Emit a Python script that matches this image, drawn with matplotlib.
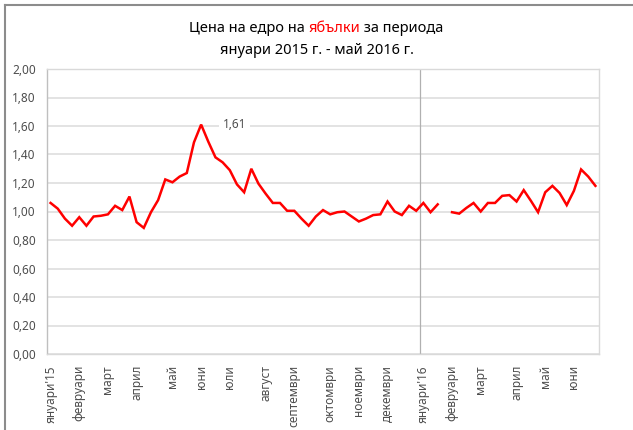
import numpy as np
import matplotlib
matplotlib.use('Agg')
import matplotlib.pyplot as plt
from matplotlib.offsetbox import TextArea, HPacker, AnnotationBbox
from matplotlib.lines import Line2D

plt.rcParams['font.family'] = ['Noto Sans', 'DejaVu Sans']

# weekly wholesale price of apples, Jan 2015 - May 2016 (one missing week)
prices = [1.06, 1.02, 0.95, 0.90, 0.96, 0.90, 0.965, 0.97, 0.98, 1.04,
          1.01, 1.105, 0.925, 0.885, 0.995, 1.08, 1.225, 1.205, 1.245, 1.27,
          1.485, 1.61, 1.49, 1.38, 1.345, 1.29, 1.19, 1.135, 1.30, 1.195,
          1.125, 1.06, 1.06, 1.005, 1.005, 0.95, 0.90, 0.965, 1.01, 0.98,
          0.995, 1.00, 0.965, 0.93, 0.95, 0.975, 0.98, 1.07, 1.00, 0.975,
          1.04, 1.005, 1.06, 0.995, 1.05, np.nan, 0.995, 0.985, 1.025, 1.06,
          1.00, 1.06, 1.06, 1.11, 1.115, 1.07, 1.15, 1.075, 0.995, 1.135,
          1.18, 1.13, 1.045, 1.145, 1.295, 1.245, 1.18]

month_idx = [0, 4, 8, 12, 17, 21, 25, 30, 34, 39, 43, 47, 52, 56, 60, 65, 69, 73]
month_labels = ["януари'15", 'февруари', 'март', 'април', 'май', 'юни', 'юли',
                'август', 'септември', 'октомври', 'ноември', 'декември',
                "януари'16", 'февруари', 'март', 'април', 'май', 'юни']
year_split = 51.5
peak_idx = 21

yticks = np.arange(0, 2.01, 0.2)

fig = plt.figure(figsize=(6.33, 4.30), dpi=100)
ax = fig.add_axes([47/633, 1-354/430, (599-47)/633, (354-69)/430])

x = np.arange(len(prices))
ax.plot(x, prices, color='#ff0000', lw=1.8, solid_joinstyle='miter', zorder=3)

ax.set_xlim(-0.5, len(prices) - 0.5)
ax.set_ylim(0, 2)
ax.set_yticks(yticks)
ax.set_yticklabels([f'{v:.2f}'.replace('.', ',') for v in yticks])
ax.set_xticks(month_idx)
ax.set_xticklabels(month_labels, rotation=90, va='top', ha='center')
ax.tick_params(axis='both', length=0, labelsize=8.5, colors='#4d4d4d')
ax.tick_params(axis='x', pad=8)
ax.tick_params(axis='y', pad=8)

ax.grid(axis='y', color='#dedede', lw=1.2)
ax.set_axisbelow(True)
for s in ax.spines.values():
    s.set_color('#d9d9d9')
    s.set_linewidth(1.0)
ax.spines['left'].set_color('#bfbfbf')
ax.axvline(year_split, color='#b0b0b0', lw=0.9, zorder=2)

ax.annotate(f'{prices[peak_idx]:.2f}'.replace('.', ','), (peak_idx, prices[peak_idx]),
            xytext=(24, 0), textcoords='offset points', va='center', ha='center',
            fontsize=8.5, color='#4d4d4d',
            bbox=dict(boxstyle='square,pad=0.3', fc='white', ec='none'))

# title with coloured word
parts = [('Цена на едро на ', 'black'), ('ябълки', '#ff0000'), (' за периода', 'black')]
boxes = [TextArea(t, textprops=dict(color=c, fontsize=10.5)) for t, c in parts]
line1 = HPacker(children=boxes, pad=0, sep=0, align='baseline')
ab = AnnotationBbox(line1, (0.5, 1-28/430), xycoords='figure fraction',
                    frameon=False, box_alignment=(0.5, 0.5), annotation_clip=False)
fig.add_artist(ab)
fig.text(0.5, 1-50/430, 'януари 2015 г. - май 2016 г.', ha='center', va='center',
         fontsize=10.5, color='black')

# outer chart frame (top and left visible)
fig.add_artist(Line2D([5/633, 1], [1-5/430, 1-5/430], color='#8c8c8c', lw=1.5,
                      transform=fig.transFigure))
fig.add_artist(Line2D([5/633, 5/633], [0, 1-5/430], color='#8c8c8c', lw=1.5,
                      transform=fig.transFigure))

plt.savefig('out.png', dpi=100)
